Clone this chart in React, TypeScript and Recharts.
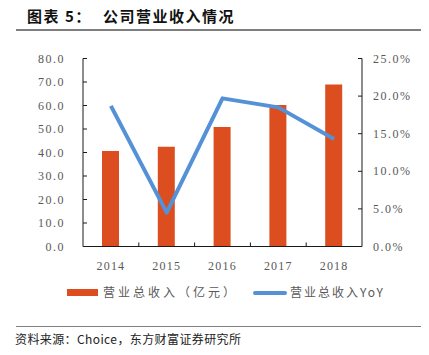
import React from 'react';
import { ComposedChart, Bar, Line, XAxis, YAxis } from 'recharts';

const years = ['2014', '2015', '2016', '2017', '2018'];
const revenue = [40.6, 42.4, 50.8, 60.2, 68.9]; // 营业总收入（亿元）
const yoy = [18.7, 4.5, 19.7, 18.5, 14.3]; // 营业总收入YoY (%)
const leftTicks = [0, 10, 20, 30, 40, 50, 60, 70, 80];
const rightTicks = [0, 5, 10, 15, 20, 25];

const data = years.map((y, i) => ({ year: y, revenue: revenue[i], yoy: yoy[i] }));

const W = 429;
const H = 355;
const PLOT_LEFT = 83;
const PLOT_RIGHT = 362;
const PLOT_TOP = 58.5;
const PLOT_BOTTOM = 246.5;
const BAND = (PLOT_RIGHT - PLOT_LEFT) / years.length;

const BAR_COLOR = '#DC4E1F';
const LINE_COLOR = '#5591D6';
const AXIS_COLOR = '#1a1a1a';
const TEXT_GREY = '#595959';
const tickFont = { fontFamily: '"Liberation Serif", serif', fontSize: 12, fill: TEXT_GREY, letterSpacing: 1.5 };

const LeftTick = (props: any) => {
  const { y, payload } = props;
  return (
    <g>
      <line x1={PLOT_LEFT} x2={PLOT_LEFT + 4} y1={y} y2={y} stroke={AXIS_COLOR} />
      <text x={65} y={y} dy={4} textAnchor="end" {...tickFont}>
        {Number(payload.value).toFixed(1)}
      </text>
    </g>
  );
};

const RightTick = (props: any) => {
  const { y, payload } = props;
  return (
    <g>
      <line x1={PLOT_RIGHT - 4} x2={PLOT_RIGHT} y1={y} y2={y} stroke={AXIS_COLOR} />
      <text x={373} y={y} dy={4} textAnchor="start" {...tickFont}>
        {Number(payload.value).toFixed(1) + '%'}
      </text>
    </g>
  );
};

const BottomTick = (props: any) => {
  const { x, payload, index } = props;
  return (
    <g>
      {index > 0 && (
        <line x1={x - BAND / 2} x2={x - BAND / 2} y1={PLOT_BOTTOM} y2={PLOT_BOTTOM - 4} stroke={AXIS_COLOR} />
      )}
      <text x={x} y={PLOT_BOTTOM + 23} textAnchor="middle" {...tickFont} letterSpacing={1.2}>
        {payload.value}
      </text>
    </g>
  );
};

const cjk = '"Noto Sans CJK SC", sans-serif';

export default function App() {
  return (
    <div style={{ position: 'absolute', left: 0, top: 0, width: W, height: H, background: '#fff', overflow: 'hidden' }}>
      {/* title */}
      <div style={{ position: 'absolute', left: 27, top: 5, fontFamily: cjk, fontWeight: 700, fontSize: 15, letterSpacing: 1.5, color: '#111', whiteSpace: 'nowrap' }}>
        图表 5：
      </div>
      <div style={{ position: 'absolute', left: 103, top: 5, fontFamily: cjk, fontWeight: 700, fontSize: 15, letterSpacing: 1.5, color: '#111', whiteSpace: 'nowrap' }}>
        公司营业收入情况
      </div>
      <div style={{ position: 'absolute', left: 16, top: 29, width: 405, height: 1.5, background: '#7f7f7f' }} />

      <div style={{ position: 'absolute', left: 0, top: 0 }}>
        <ComposedChart
          width={W}
          height={H}
          data={data}
          margin={{ top: PLOT_TOP, right: 0, bottom: H - PLOT_BOTTOM - 30, left: 0 }}
        >
          <XAxis
            dataKey="year"
            height={30}
            axisLine={{ stroke: AXIS_COLOR }}
            tickLine={false}
            tick={<BottomTick />}
            interval={0}
          />
          <YAxis
            yAxisId="left"
            width={PLOT_LEFT}
            domain={[0, 80]}
            ticks={leftTicks}
            axisLine={{ stroke: AXIS_COLOR }}
            tickLine={false}
            tick={<LeftTick />}
            interval={0}
          />
          <YAxis
            yAxisId="right"
            orientation="right"
            width={W - PLOT_RIGHT}
            domain={[0, 25]}
            ticks={rightTicks}
            axisLine={{ stroke: AXIS_COLOR }}
            tickLine={false}
            tick={<RightTick />}
            interval={0}
          />
          <Bar yAxisId="left" dataKey="revenue" fill={BAR_COLOR} barSize={17} isAnimationActive={false} />
          <Line
            yAxisId="right"
            dataKey="yoy"
            stroke={LINE_COLOR}
            strokeWidth={4}
            dot={false}
            strokeLinejoin="round"
            isAnimationActive={false}
          />
        </ComposedChart>
      </div>

      {/* legend */}
      <div style={{ position: 'absolute', left: 67, top: 289, width: 31, height: 7, background: BAR_COLOR }} />
      <div style={{ position: 'absolute', left: 103, top: 283, fontFamily: cjk, fontSize: 12, letterSpacing: 3, color: TEXT_GREY, whiteSpace: 'nowrap' }}>
        营业总收入（亿元）
      </div>
      <div style={{ position: 'absolute', left: 253, top: 290.5, width: 34, height: 4, background: LINE_COLOR, borderRadius: 2 }} />
      <div style={{ position: 'absolute', left: 290, top: 283, fontFamily: cjk, fontSize: 12, letterSpacing: 2, color: TEXT_GREY, whiteSpace: 'nowrap' }}>
        营业总收入YoY
      </div>

      {/* source */}
      <div style={{ position: 'absolute', left: 16, top: 325.5, width: 405, height: 1.5, background: '#7f7f7f' }} />
      <div style={{ position: 'absolute', left: 15, top: 330, fontFamily: cjk, fontSize: 12, letterSpacing: 0.4, color: '#222', whiteSpace: 'nowrap' }}>
        资料来源：Choice，东方财富证券研究所
      </div>
    </div>
  );
}
